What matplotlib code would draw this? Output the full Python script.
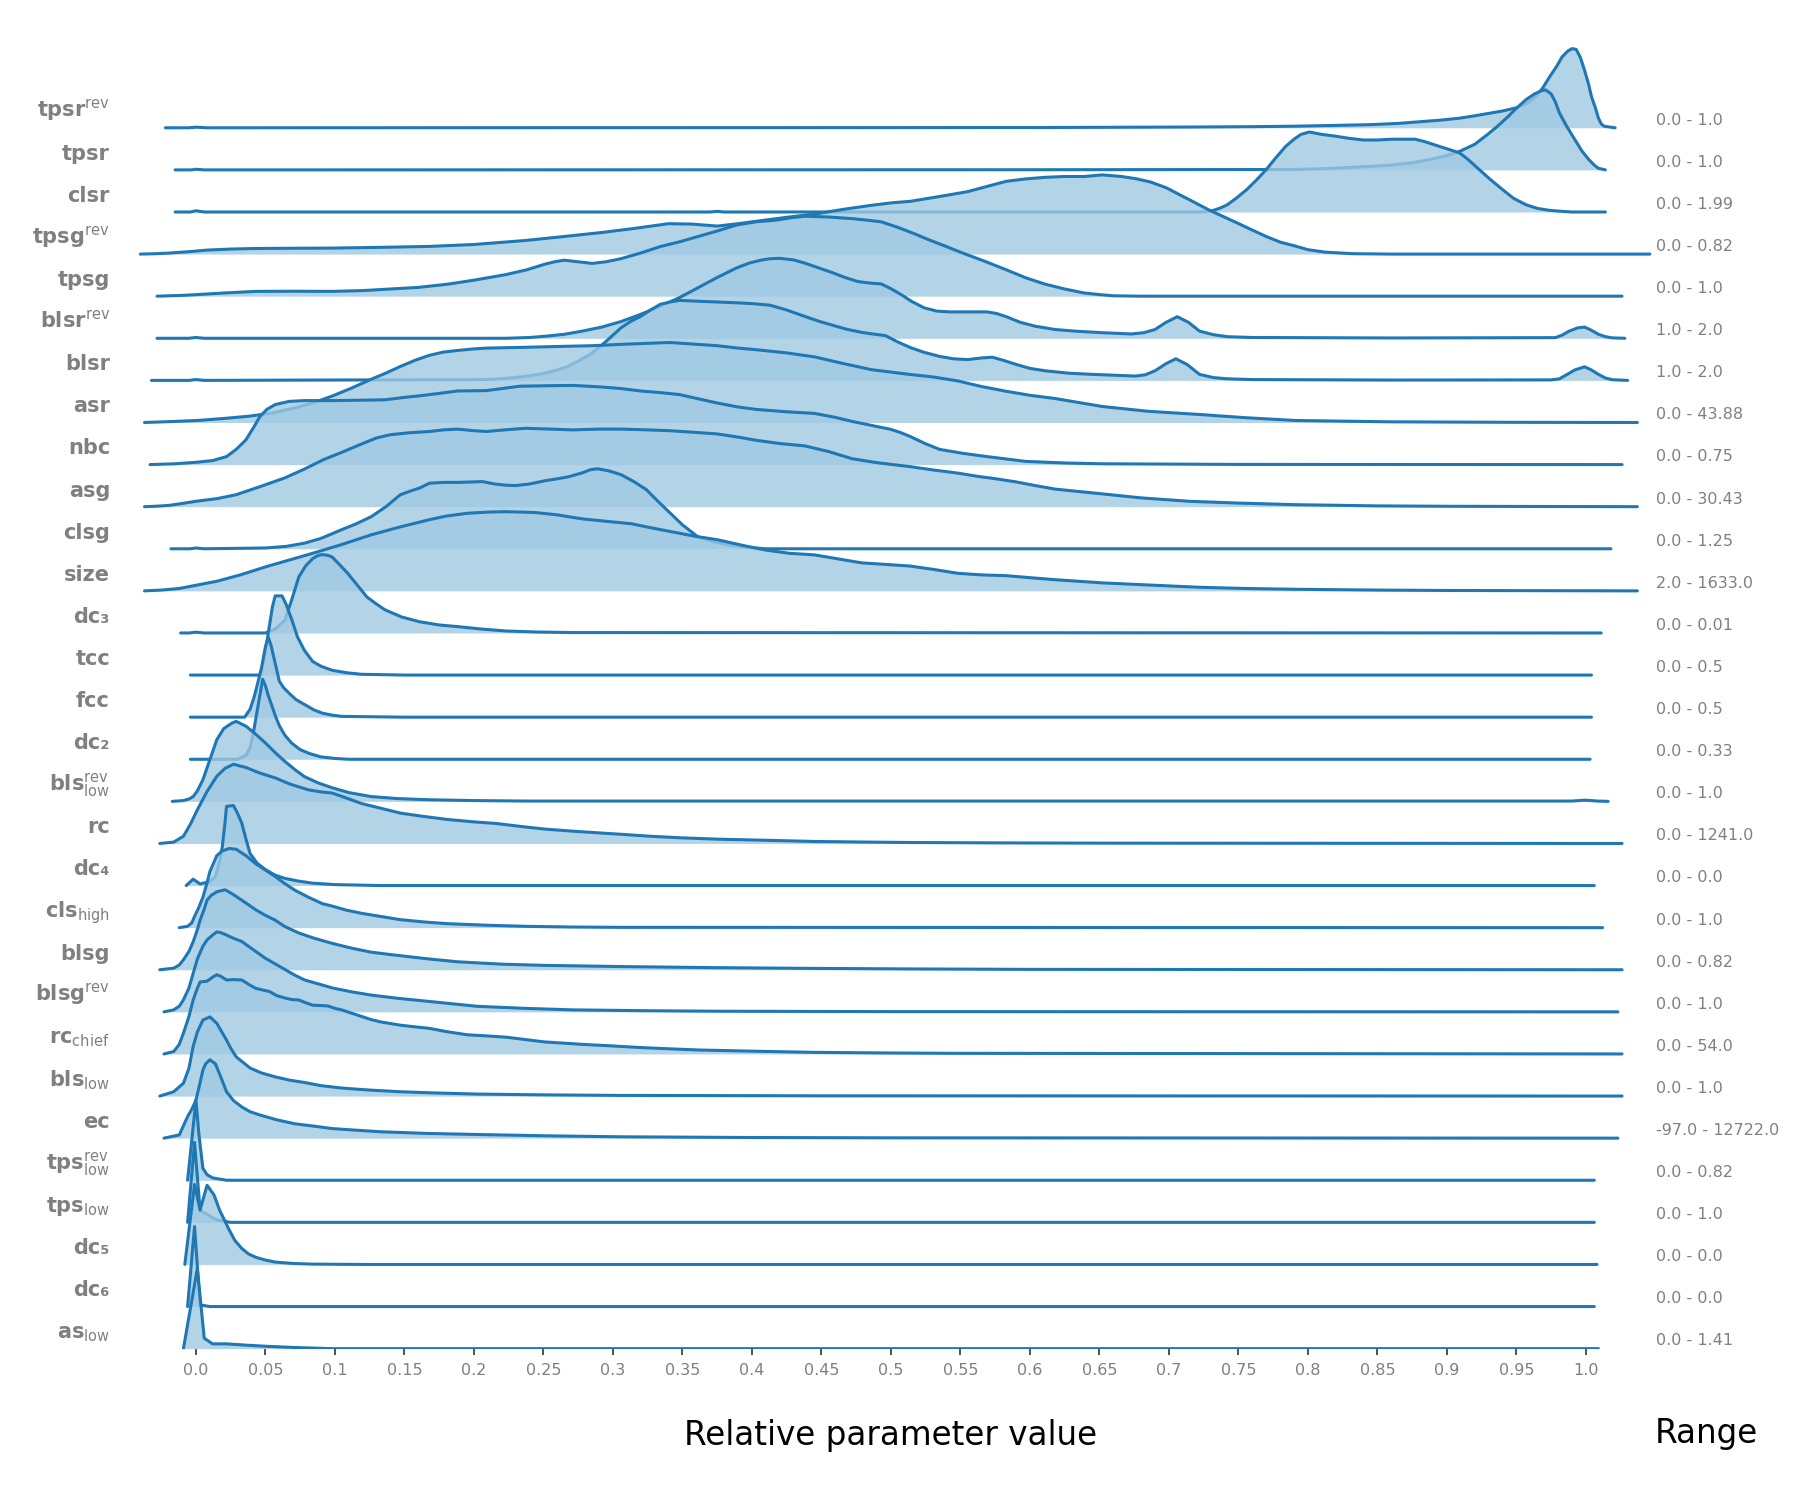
import numpy as np
import matplotlib; matplotlib.use("Agg")
import matplotlib.pyplot as plt
import matplotlib.transforms as mtrans

# ridge shapes: (relative value, height as fraction of the row's peak)
TPSR_REV = [(-0.022, 0), (-0.005, 0), (0.0, 0.008), (0.008, 0), (0.6, 0.003), (0.72, 0.01), (0.76, 0.014),
            (0.79, 0.02), (0.82, 0.03), (0.846, 0.04), (0.865, 0.055), (0.88, 0.075), (0.895, 0.095), (0.909, 0.12),
            (0.92, 0.15), (0.93, 0.18), (0.94, 0.21), (0.95, 0.25), (0.957, 0.3), (0.964, 0.39), (0.969, 0.5),
            (0.974, 0.64), (0.979, 0.77), (0.983, 0.89), (0.987, 0.96), (0.99, 0.99), (0.993, 0.98),
            (0.996, 0.88), (0.999, 0.72), (1.002, 0.54), (1.004, 0.39), (1.007, 0.24), (1.009, 0.12),
            (1.011, 0.05), (1.013, 0.02), (1.021, 0)]
TPSR = [(-0.015, 0), (-0.003, 0), (0.0, 0.008), (0.006, 0), (0.6, 0.002), (0.79, 0.005), (0.81, 0.015),
        (0.83, 0.03), (0.845, 0.045), (0.86, 0.06), (0.875, 0.09), (0.888, 0.13), (0.9, 0.18), (0.909, 0.23),
        (0.92, 0.32), (0.929, 0.44), (0.936, 0.54), (0.943, 0.65), (0.95, 0.77), (0.957, 0.88), (0.963, 0.95),
        (0.968, 0.99), (0.971, 1.0), (0.975, 0.95), (0.978, 0.85), (0.981, 0.71), (0.986, 0.55), (0.992, 0.38),
        (0.997, 0.24), (1.002, 0.13), (1.006, 0.06), (1.009, 0.02), (1.014, 0)]
CLSR = [(-0.015, 0), (-0.004, 0), (0.0, 0.015), (0.006, 0), (0.37, 0), (0.375, 0.008), (0.38, 0), (0.72, 0),
        (0.727, 0.005), (0.732, 0.02), (0.737, 0.05), (0.742, 0.09), (0.749, 0.18), (0.756, 0.28), (0.763, 0.4),
        (0.77, 0.53), (0.777, 0.68), (0.784, 0.82), (0.79, 0.91), (0.795, 0.97), (0.801, 1.0), (0.81, 0.97),
        (0.819, 0.95), (0.83, 0.92), (0.84, 0.90), (0.85, 0.9), (0.86, 0.91), (0.869, 0.91), (0.877, 0.91),
        (0.884, 0.88), (0.891, 0.84), (0.9, 0.79), (0.909, 0.74), (0.915, 0.66), (0.922, 0.55), (0.931, 0.41),
        (0.94, 0.28), (0.948, 0.17), (0.957, 0.09), (0.965, 0.045), (0.974, 0.02), (0.985, 0.005), (0.99, 0),
        (1.014, 0)]
TPSG_REV = [(-0.04, 0), (-0.03, 0.004), (-0.02, 0.012), (-0.005, 0.03), (0.008, 0.05), (0.025, 0.063),
            (0.043, 0.07), (0.07, 0.073), (0.098, 0.075), (0.135, 0.085), (0.168, 0.096), (0.2, 0.12),
            (0.237, 0.17), (0.265, 0.22), (0.292, 0.27), (0.315, 0.32), (0.34, 0.38), (0.357, 0.375),
            (0.375, 0.35), (0.39, 0.38), (0.403, 0.41), (0.425, 0.46), (0.445, 0.5), (0.466, 0.56), (0.486, 0.61),
            (0.5, 0.64), (0.514, 0.66), (0.535, 0.72), (0.555, 0.78), (0.57, 0.85), (0.583, 0.91), (0.597, 0.94),
            (0.611, 0.96), (0.625, 0.97), (0.639, 0.97), (0.652, 0.99), (0.666, 0.97), (0.677, 0.94),
            (0.687, 0.9), (0.698, 0.83), (0.708, 0.74), (0.718, 0.65), (0.729, 0.55), (0.739, 0.47),
            (0.749, 0.39), (0.76, 0.3), (0.77, 0.22), (0.78, 0.15), (0.791, 0.1), (0.8, 0.055), (0.812, 0.025),
            (0.832, 0.005), (0.86, 0), (1.046, 0)]
TPSG = [(-0.028, 0), (-0.01, 0.01), (0.001, 0.02), (0.02, 0.04), (0.043, 0.06), (0.07, 0.062), (0.098, 0.06),
        (0.12, 0.07), (0.14, 0.09), (0.16, 0.11), (0.181, 0.15), (0.2, 0.2), (0.223, 0.27), (0.238, 0.33),
        (0.251, 0.40), (0.258, 0.43), (0.265, 0.45), (0.275, 0.43), (0.285, 0.41), (0.295, 0.43), (0.306, 0.47),
        (0.32, 0.54), (0.334, 0.62), (0.348, 0.68), (0.362, 0.75), (0.376, 0.82), (0.389, 0.89), (0.403, 0.93),
        (0.417, 0.95), (0.428, 0.98), (0.438, 1.0), (0.455, 0.99), (0.472, 0.97), (0.483, 0.95), (0.493, 0.93),
        (0.505, 0.86), (0.517, 0.78), (0.528, 0.70), (0.54, 0.62), (0.55, 0.55), (0.567, 0.44), (0.583, 0.33),
        (0.597, 0.23), (0.611, 0.15), (0.625, 0.09), (0.639, 0.04), (0.65, 0.02), (0.66, 0.005), (0.68, 0),
        (1.026, 0)]
BLSR_REV = [(-0.028, 0), (-0.005, 0), (0.0, 0.01), (0.006, 0), (0.223, 0), (0.24, 0.01), (0.251, 0.025),
            (0.265, 0.05), (0.278, 0.09), (0.292, 0.14), (0.306, 0.21), (0.32, 0.3), (0.334, 0.4), (0.348, 0.51),
            (0.361, 0.63), (0.375, 0.76), (0.389, 0.88), (0.398, 0.94), (0.406, 0.975), (0.413, 0.995),
            (0.42, 1.0), (0.43, 0.98), (0.438, 0.94), (0.448, 0.88), (0.458, 0.82), (0.467, 0.76), (0.476, 0.71),
            (0.485, 0.69), (0.493, 0.68), (0.5, 0.62), (0.507, 0.55), (0.515, 0.46), (0.524, 0.38),
            (0.533, 0.34), (0.542, 0.33), (0.555, 0.33), (0.569, 0.33), (0.576, 0.31), (0.583, 0.27),
            (0.593, 0.2), (0.604, 0.15), (0.618, 0.11), (0.632, 0.09), (0.652, 0.07), (0.673, 0.054),
            (0.682, 0.07), (0.69, 0.11), (0.698, 0.2), (0.706, 0.27), (0.714, 0.2), (0.722, 0.09), (0.732, 0.045),
            (0.742, 0.02), (0.76, 0.01), (0.86, 0.004), (0.978, 0.008), (0.983, 0.04), (0.988, 0.09),
            (0.994, 0.13), (0.999, 0.14), (1.004, 0.1), (1.009, 0.05), (1.014, 0.02), (1.019, 0.005), (1.028, 0)]
BLSR = [(-0.032, 0), (-0.005, 0), (0.0, 0.01), (0.006, 0), (0.209, 0.01), (0.223, 0.025), (0.237, 0.05),
        (0.248, 0.08), (0.258, 0.12), (0.267, 0.17), (0.275, 0.24), (0.284, 0.33), (0.292, 0.44), (0.299, 0.55),
        (0.306, 0.66), (0.313, 0.74), (0.32, 0.8), (0.327, 0.88), (0.334, 0.95), (0.341, 0.98), (0.348, 1.0),
        (0.361, 0.99), (0.375, 0.98), (0.389, 0.97), (0.4, 0.96), (0.413, 0.94), (0.425, 0.88), (0.438, 0.80),
        (0.448, 0.74), (0.458, 0.69), (0.468, 0.64), (0.479, 0.6), (0.487, 0.58), (0.496, 0.56), (0.505, 0.48),
        (0.514, 0.41), (0.524, 0.35), (0.535, 0.3), (0.545, 0.27), (0.555, 0.26), (0.565, 0.28), (0.573, 0.29),
        (0.581, 0.25), (0.59, 0.2), (0.6, 0.15), (0.611, 0.12), (0.628, 0.09), (0.645, 0.075), (0.66, 0.065),
        (0.676, 0.054), (0.683, 0.07), (0.69, 0.12), (0.698, 0.21), (0.705, 0.27), (0.713, 0.2), (0.722, 0.075),
        (0.732, 0.035), (0.742, 0.02), (0.76, 0.01), (0.86, 0.004), (0.975, 0.006), (0.981, 0.02),
        (0.986, 0.07), (0.992, 0.13), (0.999, 0.17), (1.004, 0.13), (1.009, 0.075), (1.014, 0.03),
        (1.019, 0.008), (1.03, 0)]
ASR = [(-0.037, 0), (-0.02, 0.01), (0.001, 0.025), (0.02, 0.05), (0.039, 0.08), (0.055, 0.12), (0.071, 0.18),
       (0.085, 0.25), (0.098, 0.33), (0.112, 0.43), (0.126, 0.54), (0.137, 0.62), (0.147, 0.70), (0.158, 0.78),
       (0.168, 0.84), (0.178, 0.88), (0.188, 0.90), (0.2, 0.92), (0.209, 0.93), (0.237, 0.94), (0.26, 0.95),
       (0.285, 0.96), (0.31, 0.98), (0.341, 1.0), (0.358, 0.98), (0.375, 0.96), (0.39, 0.93), (0.403, 0.91),
       (0.425, 0.87), (0.445, 0.82), (0.465, 0.74), (0.486, 0.66), (0.5, 0.63), (0.514, 0.60), (0.53, 0.57),
       (0.548, 0.52), (0.565, 0.45), (0.583, 0.39), (0.6, 0.34), (0.618, 0.30), (0.635, 0.25), (0.652, 0.20),
       (0.685, 0.14), (0.722, 0.10), (0.755, 0.06), (0.791, 0.025), (0.86, 0.008), (0.95, 0.002), (1.037, 0)]
NBC = [(-0.033, 0), (-0.015, 0.01), (0.001, 0.03), (0.012, 0.05), (0.022, 0.10), (0.029, 0.19), (0.036, 0.31),
       (0.041, 0.45), (0.046, 0.60), (0.051, 0.69), (0.057, 0.75), (0.067, 0.79), (0.078, 0.80), (0.098, 0.80),
       (0.12, 0.805), (0.136, 0.81), (0.15, 0.84), (0.161, 0.86), (0.175, 0.89), (0.188, 0.92), (0.209, 0.925),
       (0.22, 0.95), (0.233, 0.98), (0.25, 0.985), (0.271, 0.99), (0.292, 0.97), (0.306, 0.95), (0.32, 0.92),
       (0.334, 0.9), (0.348, 0.875), (0.362, 0.82), (0.375, 0.77), (0.39, 0.72), (0.403, 0.69), (0.425, 0.66),
       (0.445, 0.64), (0.46, 0.59), (0.472, 0.54), (0.486, 0.49), (0.5, 0.44), (0.507, 0.40), (0.514, 0.35),
       (0.525, 0.26), (0.535, 0.19), (0.552, 0.14), (0.569, 0.10), (0.583, 0.07), (0.597, 0.04), (0.625, 0.02),
       (0.652, 0.01), (0.75, 0.002), (1.026, 0)]
ASG = [(-0.037, 0), (-0.028, 0.006), (-0.019, 0.017), (-0.01, 0.04), (0.001, 0.07), (0.015, 0.1), (0.029, 0.15),
       (0.046, 0.25), (0.064, 0.36), (0.078, 0.47), (0.092, 0.59), (0.105, 0.68), (0.12, 0.79), (0.13, 0.86),
       (0.14, 0.9), (0.154, 0.925), (0.168, 0.94), (0.178, 0.96), (0.188, 0.97), (0.2, 0.95), (0.209, 0.94),
       (0.222, 0.96), (0.237, 0.98), (0.255, 0.97), (0.271, 0.96), (0.29, 0.97), (0.306, 0.97), (0.325, 0.96),
       (0.341, 0.95), (0.358, 0.93), (0.375, 0.91), (0.39, 0.87), (0.403, 0.83), (0.42, 0.79), (0.438, 0.76),
       (0.455, 0.69), (0.472, 0.6), (0.49, 0.55), (0.514, 0.5), (0.53, 0.46), (0.548, 0.42), (0.562, 0.38),
       (0.575, 0.35), (0.59, 0.31), (0.605, 0.26), (0.618, 0.22), (0.635, 0.19), (0.652, 0.16), (0.68, 0.11),
       (0.715, 0.067), (0.75, 0.045), (0.791, 0.025), (0.85, 0.01), (0.9, 0.005), (1.037, 0)]
CLSG = [(-0.018, 0), (-0.004, 0), (0.0, 0.01), (0.006, 0), (0.05, 0.01), (0.065, 0.03), (0.078, 0.07),
        (0.09, 0.13), (0.105, 0.24), (0.115, 0.31), (0.126, 0.40), (0.137, 0.53), (0.147, 0.675), (0.154, 0.72),
        (0.161, 0.76), (0.168, 0.82), (0.178, 0.83), (0.188, 0.83), (0.198, 0.835), (0.206, 0.84), (0.215, 0.81),
        (0.223, 0.795), (0.23, 0.79), (0.24, 0.81), (0.251, 0.85), (0.26, 0.875), (0.268, 0.9), (0.278, 0.95),
        (0.284, 0.99), (0.289, 1.0), (0.297, 0.975), (0.306, 0.925), (0.315, 0.84), (0.324, 0.74), (0.332, 0.6),
        (0.341, 0.45), (0.35, 0.3), (0.361, 0.15), (0.372, 0.09), (0.382, 0.05), (0.395, 0.02), (0.41, 0.0),
        (1.018, 0)]
SIZE = [(-0.037, 0), (-0.025, 0.01), (-0.012, 0.03), (0.0, 0.07), (0.015, 0.12), (0.032, 0.2), (0.05, 0.30),
        (0.067, 0.385), (0.084, 0.47), (0.105, 0.58), (0.126, 0.70), (0.147, 0.80), (0.168, 0.89), (0.18, 0.935),
        (0.195, 0.97), (0.21, 0.985), (0.223, 0.99), (0.244, 0.98), (0.26, 0.95), (0.278, 0.90), (0.295, 0.87),
        (0.313, 0.84), (0.33, 0.78), (0.348, 0.72), (0.36, 0.68), (0.375, 0.64), (0.393, 0.57), (0.41, 0.51),
        (0.427, 0.47), (0.445, 0.45), (0.462, 0.40), (0.479, 0.35), (0.497, 0.33), (0.514, 0.31), (0.53, 0.27),
        (0.548, 0.22), (0.565, 0.2), (0.583, 0.19), (0.6, 0.165), (0.618, 0.14), (0.635, 0.12), (0.652, 0.10),
        (0.69, 0.07), (0.722, 0.045), (0.755, 0.03), (0.791, 0.02), (0.85, 0.01), (0.9, 0.005), (1.037, 0)]
DC3 = [(-0.011, 0), (-0.005, 0), (0.0, 0.01), (0.006, 0), (0.05, 0), (0.057, 0.05), (0.064, 0.16),
       (0.069, 0.42), (0.074, 0.70), (0.079, 0.84), (0.084, 0.93), (0.088, 0.97), (0.091, 0.98), (0.095, 0.97),
       (0.098, 0.95), (0.103, 0.86), (0.109, 0.75), (0.116, 0.6), (0.123, 0.45), (0.13, 0.36), (0.136, 0.29),
       (0.148, 0.2), (0.161, 0.14), (0.175, 0.1), (0.188, 0.08), (0.205, 0.05), (0.223, 0.025), (0.245, 0.012),
       (0.271, 0.005), (1.011, 0)]
TCC = [(-0.004, 0), (0.046, 0), (0.049, 0.2), (0.052, 0.52), (0.055, 0.85), (0.057, 0.99), (0.062, 0.99),
       (0.065, 0.88), (0.069, 0.69), (0.073, 0.48), (0.078, 0.31), (0.084, 0.17), (0.09, 0.11), (0.098, 0.06),
       (0.108, 0.03), (0.119, 0.01), (0.15, 0), (1.004, 0)]
FCC = [(-0.004, 0), (0.035, 0), (0.039, 0.1), (0.042, 0.26), (0.047, 0.6), (0.05, 0.88), (0.052, 1.0),
       (0.054, 0.9), (0.056, 0.75), (0.06, 0.45), (0.063, 0.37), (0.067, 0.30), (0.072, 0.22), (0.078, 0.16),
       (0.085, 0.09), (0.091, 0.05), (0.098, 0.025), (0.105, 0.01), (0.15, 0), (1.004, 0)]
DC2 = [(-0.004, 0), (0.03, 0), (0.036, 0.05), (0.039, 0.15), (0.041, 0.3), (0.043, 0.5), (0.045, 0.7),
       (0.048, 1.0), (0.05, 0.92), (0.052, 0.8), (0.057, 0.55), (0.06, 0.42), (0.064, 0.3), (0.069, 0.2),
       (0.075, 0.12), (0.082, 0.07), (0.09, 0.03), (0.1, 0.01), (0.11, 0), (1.003, 0)]
BLS_LOW_REV = [(-0.017, 0), (-0.009, 0.01), (-0.005, 0.03), (-0.002, 0.06), (0.001, 0.13), (0.005, 0.27),
               (0.01, 0.52), (0.015, 0.77), (0.02, 0.91), (0.026, 0.98), (0.029, 1.0), (0.036, 0.94),
               (0.043, 0.84), (0.05, 0.73), (0.057, 0.61), (0.064, 0.5), (0.071, 0.4), (0.078, 0.31),
               (0.088, 0.23), (0.098, 0.17), (0.11, 0.11), (0.126, 0.06), (0.145, 0.035), (0.168, 0.02),
               (0.2, 0.01), (0.237, 0.004), (0.99, 0.004), (0.995, 0.01), (0.999, 0.015), (1.004, 0.01),
               (1.008, 0.004), (1.016, 0)]
RC = [(-0.026, 0), (-0.016, 0.017), (-0.009, 0.09), (-0.004, 0.24), (0.001, 0.42), (0.008, 0.65), (0.015, 0.84),
      (0.021, 0.94), (0.027, 0.99), (0.036, 0.95), (0.046, 0.88), (0.057, 0.82), (0.068, 0.74), (0.081, 0.67),
      (0.09, 0.645), (0.098, 0.63), (0.108, 0.57), (0.119, 0.50), (0.133, 0.44), (0.147, 0.38), (0.163, 0.34),
      (0.181, 0.30), (0.2, 0.27), (0.216, 0.25), (0.235, 0.21), (0.251, 0.18), (0.27, 0.155), (0.292, 0.13),
      (0.31, 0.11), (0.327, 0.09), (0.35, 0.07), (0.375, 0.054), (0.41, 0.04), (0.445, 0.025), (0.48, 0.018),
      (0.514, 0.012), (0.58, 0.007), (0.652, 0.004), (1.026, 0)]
DC4 = [(-0.007, 0), (-0.002, 0.08), (0.003, 0.02), (0.01, 0.05), (0.014, 0.11), (0.017, 0.3), (0.019, 0.49),
       (0.021, 0.8), (0.022, 0.99), (0.027, 1.0), (0.03, 0.9), (0.033, 0.78), (0.036, 0.58), (0.039, 0.40),
       (0.044, 0.28), (0.05, 0.2), (0.057, 0.13), (0.064, 0.09), (0.074, 0.055), (0.084, 0.03), (0.1, 0.012),
       (0.133, 0), (1.006, 0)]
CLS_HIGH = [(-0.012, 0), (-0.006, 0.017), (-0.003, 0.06), (-0.001, 0.14), (0.002, 0.25), (0.005, 0.38),
            (0.008, 0.56), (0.01, 0.7), (0.013, 0.82), (0.015, 0.9), (0.019, 0.96), (0.024, 0.99), (0.029, 0.98),
            (0.036, 0.9), (0.043, 0.80), (0.05, 0.72), (0.057, 0.64), (0.064, 0.55), (0.071, 0.47), (0.081, 0.38),
            (0.091, 0.30), (0.098, 0.27), (0.108, 0.22), (0.119, 0.18), (0.133, 0.14), (0.147, 0.10),
            (0.165, 0.07), (0.181, 0.05), (0.21, 0.03), (0.237, 0.017), (0.27, 0.008), (0.306, 0.004), (1.012, 0)]
BLSG = [(-0.026, 0), (-0.016, 0.02), (-0.012, 0.06), (-0.009, 0.125), (-0.005, 0.23), (-0.002, 0.35),
        (0.001, 0.5), (0.003, 0.62), (0.006, 0.76), (0.008, 0.87), (0.011, 0.93), (0.015, 0.975), (0.021, 1.0),
        (0.026, 0.95), (0.033, 0.87), (0.038, 0.81), (0.043, 0.75), (0.05, 0.68), (0.057, 0.62), (0.064, 0.54),
        (0.074, 0.46), (0.084, 0.40), (0.098, 0.33), (0.112, 0.27), (0.126, 0.22), (0.14, 0.19), (0.165, 0.14),
        (0.188, 0.10), (0.22, 0.07), (0.25, 0.055), (0.306, 0.04), (0.37, 0.027), (0.445, 0.017), (0.52, 0.01),
        (0.6, 0.005), (1.026, 0)]
BLSG_REV = [(-0.023, 0), (-0.016, 0.025), (-0.012, 0.07), (-0.009, 0.15), (-0.005, 0.3), (-0.002, 0.48),
            (0.001, 0.66), (0.005, 0.82), (0.008, 0.9), (0.012, 0.96), (0.015, 1.0), (0.018, 0.99), (0.022, 0.96),
            (0.027, 0.92), (0.033, 0.88), (0.041, 0.78), (0.05, 0.67), (0.057, 0.6), (0.064, 0.53), (0.071, 0.46),
            (0.078, 0.40), (0.088, 0.35), (0.098, 0.30), (0.112, 0.25), (0.126, 0.21), (0.145, 0.17),
            (0.168, 0.13), (0.185, 0.1), (0.202, 0.07), (0.235, 0.045), (0.271, 0.025), (0.32, 0.015),
            (0.375, 0.008), (0.5, 0.003), (1.023, 0)]
RC_CHIEF = [(-0.023, 0), (-0.016, 0.03), (-0.012, 0.12), (-0.009, 0.26), (-0.005, 0.47), (-0.002, 0.675),
            (0.001, 0.82), (0.003, 0.9), (0.008, 0.91), (0.012, 0.96), (0.015, 0.99), (0.018, 0.97),
            (0.022, 0.925), (0.027, 0.93), (0.033, 0.925), (0.038, 0.87), (0.043, 0.82), (0.048, 0.8),
            (0.053, 0.78), (0.058, 0.73), (0.064, 0.70), (0.069, 0.68), (0.074, 0.675), (0.079, 0.64),
            (0.084, 0.61), (0.09, 0.605), (0.095, 0.6), (0.1, 0.57), (0.105, 0.55), (0.112, 0.51), (0.119, 0.47),
            (0.126, 0.43), (0.133, 0.40), (0.14, 0.38), (0.147, 0.36), (0.157, 0.34), (0.168, 0.32),
            (0.18, 0.28), (0.195, 0.24), (0.21, 0.225), (0.223, 0.21), (0.237, 0.18), (0.251, 0.15),
            (0.265, 0.135), (0.278, 0.12), (0.3, 0.1), (0.32, 0.08), (0.34, 0.065), (0.361, 0.05), (0.4, 0.035),
            (0.445, 0.02), (0.5, 0.012), (0.548, 0.008), (1.026, 0)]
BLS_LOW = [(-0.026, 0), (-0.016, 0.054), (-0.009, 0.16), (-0.005, 0.35), (-0.002, 0.62), (0.001, 0.8),
           (0.005, 0.95), (0.01, 0.99), (0.015, 0.91), (0.018, 0.82), (0.022, 0.7), (0.025, 0.6), (0.029, 0.49),
           (0.034, 0.42), (0.039, 0.35), (0.047, 0.29), (0.057, 0.24), (0.067, 0.2), (0.078, 0.17), (0.09, 0.13),
           (0.105, 0.1), (0.125, 0.075), (0.147, 0.054), (0.17, 0.04), (0.202, 0.025), (0.25, 0.015),
           (0.306, 0.008), (0.45, 0.003), (1.026, 0)]
EC = [(-0.023, 0), (-0.012, 0.04), (-0.006, 0.27), (-0.003, 0.36), (0.0, 0.475), (0.002, 0.62), (0.005, 0.85),
      (0.007, 0.93), (0.01, 0.98), (0.014, 0.93), (0.018, 0.76), (0.022, 0.58), (0.027, 0.47), (0.033, 0.39),
      (0.039, 0.33), (0.046, 0.29), (0.058, 0.23), (0.071, 0.18), (0.085, 0.15), (0.098, 0.12), (0.115, 0.1),
      (0.133, 0.08), (0.165, 0.06), (0.202, 0.046), (0.25, 0.03), (0.306, 0.017), (0.4, 0.008), (0.5, 0.004),
      (1.023, 0)]
TPS_LOW_REV = [(-0.006, 0), (0.0, 1.0), (0.002, 0.6), (0.005, 0.15), (0.008, 0.07), (0.012, 0.03), (0.022, 0),
               (1.006, 0)]
TPS_LOW = [(-0.006, 0), (-0.001, 1.0), (0.003, 0.15), (0.008, 0.10), (0.015, 0.03), (0.025, 0), (1.006, 0)]
DC5 = [(-0.008, 0), (-0.001, 1.0), (0.003, 0.68), (0.008, 0.99), (0.013, 0.87), (0.017, 0.68), (0.024, 0.43),
       (0.028, 0.3), (0.033, 0.20), (0.038, 0.13), (0.043, 0.09), (0.05, 0.055), (0.057, 0.03), (0.07, 0.012),
       (0.084, 0.004), (0.12, 0), (1.008, 0)]
DC6 = [(-0.006, 0), (-0.001, 1.0), (0.003, 0.02), (0.01, 0), (1.006, 0)]
AS_LOW = [(-0.009, 0), (0.001, 1.0), (0.006, 0.13), (0.012, 0.06), (0.022, 0.06), (0.035, 0.045), (0.05, 0.03),
          (0.07, 0.015), (0.098, 0), (1.009, 0)]

LABELS = ["tpsr$^\\mathrm{rev}$", "tpsr", "clsr", "tpsg$^\\mathrm{rev}$", "tpsg", "blsr$^\\mathrm{rev}$", "blsr",
          "asr", "nbc", "asg", "clsg", "size", "dc\u2083", "tcc", "fcc", "dc\u2082",
          "bls$^\\mathrm{rev}_\\mathrm{low}$", "rc", "dc\u2084", "cls$_\\mathrm{high}$", "blsg",
          "blsg$^\\mathrm{rev}$", "rc$_\\mathrm{chief}$", "bls$_\\mathrm{low}$", "ec",
          "tps$^\\mathrm{rev}_\\mathrm{low}$", "tps$_\\mathrm{low}$", "dc\u2085", "dc\u2086", "as$_\\mathrm{low}$"]
RANGES = ["0.0 - 1.0", "0.0 - 1.0", "0.0 - 1.99", "0.0 - 0.82", "0.0 - 1.0", "1.0 - 2.0", "1.0 - 2.0",
          "0.0 - 43.88", "0.0 - 0.75", "0.0 - 30.43", "0.0 - 1.25", "2.0 - 1633.0", "0.0 - 0.01", "0.0 - 0.5",
          "0.0 - 0.5", "0.0 - 0.33", "0.0 - 1.0", "0.0 - 1241.0", "0.0 - 0.0", "0.0 - 1.0", "0.0 - 0.82",
          "0.0 - 1.0", "0.0 - 54.0", "0.0 - 1.0", "-97.0 - 12722.0", "0.0 - 0.82", "0.0 - 1.0", "0.0 - 0.0",
          "0.0 - 0.0", "0.0 - 1.41"]
ROWS = [TPSR_REV, TPSR, CLSR, TPSG_REV, TPSG, BLSR_REV, BLSR, ASR, NBC, ASG, CLSG, SIZE, DC3, TCC, FCC, DC2,
        BLS_LOW_REV, RC, DC4, CLS_HIGH, BLSG, BLSG_REV, RC_CHIEF, BLS_LOW, EC, TPS_LOW_REV, TPS_LOW, DC5, DC6,
        AS_LOW]

BLUE = "#1f77b4"
FILL = "#a0c9e2"   # with alpha 0.8 -> light blue on white, only slightly darker where ridges overlap
GREY = "#808080"
PEAK = 1.9         # ridge height in row spacings

fig = plt.figure(figsize=(18, 15), dpi=100)
ax = fig.add_axes([0.0741, 0.1009, 0.8533, 0.8981])
n = len(ROWS)

for i, row in enumerate(ROWS):
    xs = np.array([p[0] for p in row])
    hs = np.array([p[1] for p in row])
    base = -i
    ax.fill_between(xs, base, base + hs * PEAK, color=FILL, alpha=0.8, lw=0, zorder=10 + 2 * i)
    ax.plot(xs, base + hs * PEAK, color=BLUE, lw=2.2, zorder=11 + 2 * i,
            solid_joinstyle="round", solid_capstyle="round")

lab_tr = mtrans.blended_transform_factory(fig.transFigure, ax.transData)
for i, (lab, rng) in enumerate(zip(LABELS, RANGES)):
    ax.text(110 / 1800, -i + 0.24, lab, transform=lab_tr, ha="right", va="baseline",
            fontsize=15, fontweight="bold", color=GREY, clip_on=False)
    ax.text(1656 / 1800, -i + 0.075, rng, transform=lab_tr, ha="left", va="baseline",
            fontsize=11.5, color=GREY, clip_on=False)

ax.set_xlim(-0.045, 1.06)
ax.set_ylim(-(n - 1), 3)
ticks = np.round(np.arange(0, 1.0001, 0.05), 2)
ax.set_xticks(ticks)
ax.set_xticklabels([str(t) for t in ticks])
ax.tick_params(axis="x", length=4.5, width=1.2, color="#333333", labelcolor=GREY, labelsize=11.5, pad=6)
ax.set_yticks([])
for s in ax.spines.values():
    s.set_visible(False)

fig.text(891 / 1800, 1 - 1436 / 1500, "Relative parameter value", ha="center", va="center", fontsize=23.5)
fig.text(1655 / 1800, 1 - 1433 / 1500, "Range", ha="left", va="center", fontsize=23.5)

fig.savefig("out.png", dpi=100)
